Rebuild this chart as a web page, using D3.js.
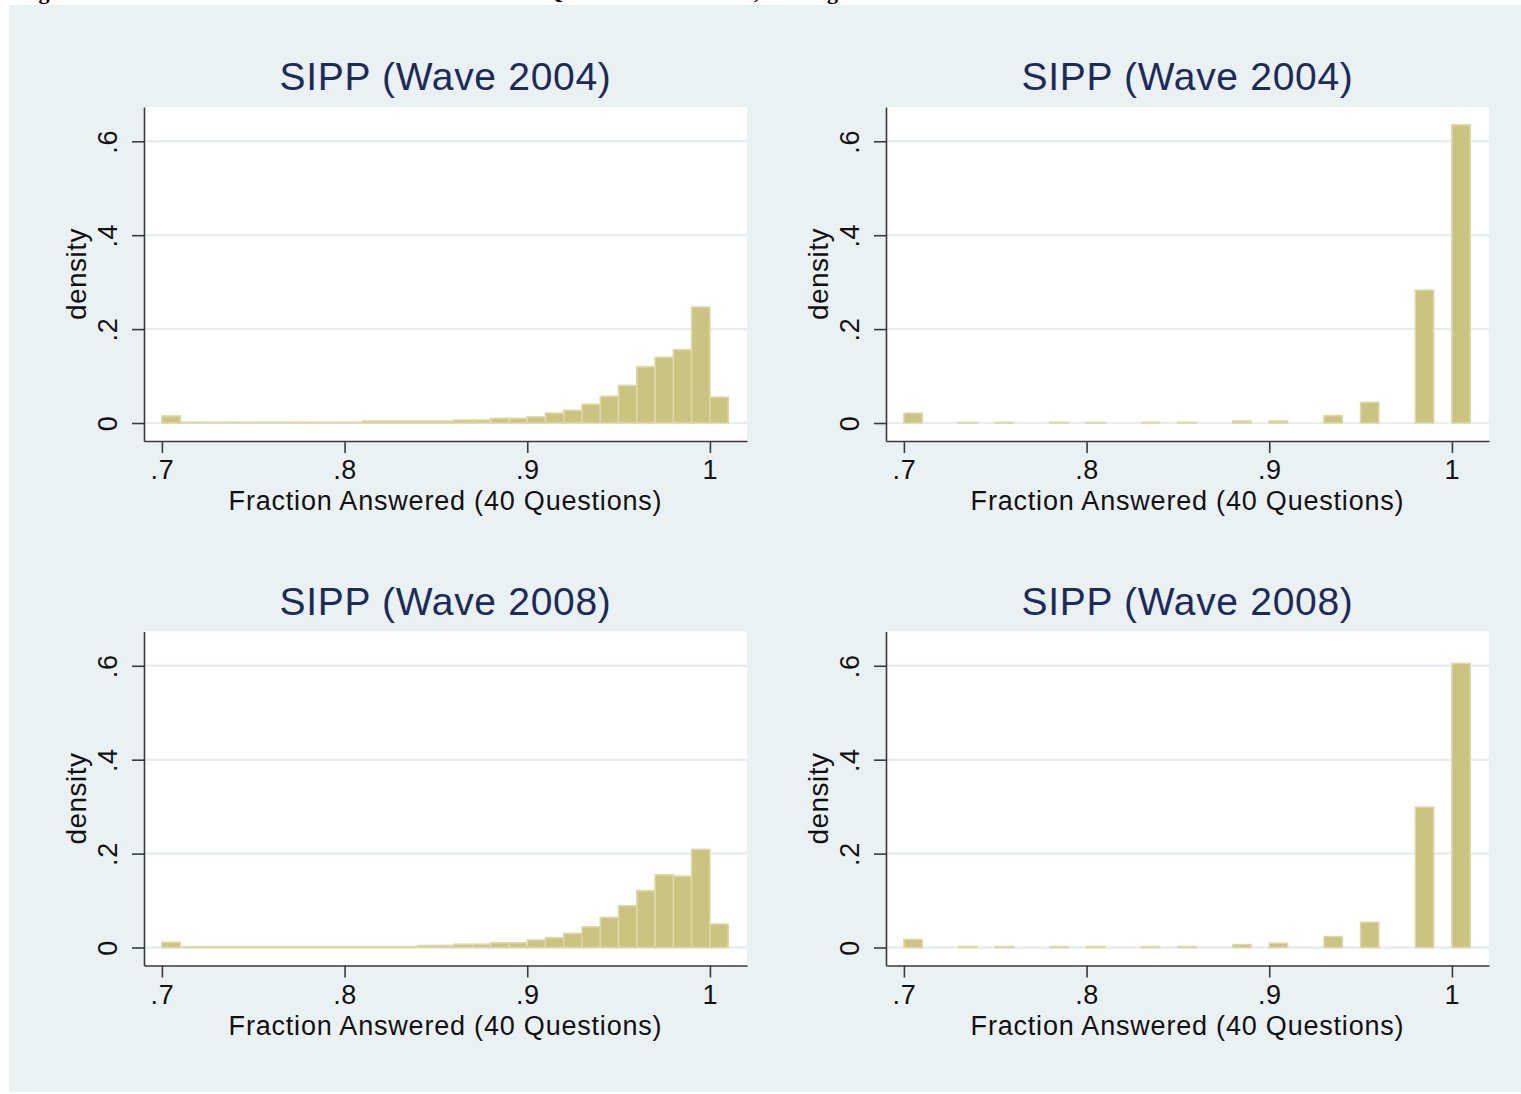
<!DOCTYPE html>
<html>
<head>
<meta charset="utf-8">
<script src="https://cdn.jsdelivr.net/npm/d3@7"></script>
<style>
body { margin: 0; background: #fff; }
text { font-family: "Liberation Sans", Arial, sans-serif; }
</style>
</head>
<body>
<script>
// bins of width .01 (left panels use every bin, right panels only some)
var binsFine = [0.70,0.71,0.72,0.73,0.74,0.75,0.76,0.77,0.78,0.79,
                0.80,0.81,0.82,0.83,0.84,0.85,0.86,0.87,0.88,0.89,
                0.90,0.91,0.92,0.93,0.94,0.95,0.96,0.97,0.98,0.99,1.00];
var binsCoarse = [0.70,0.73,0.75,0.78,0.80,0.83,0.85,0.88,0.90,0.93,0.95,0.98,1.00];

var dens2004Fine = [0.015,0.0015,0.0015,0.0015,0.0015,0.0015,0.0015,0.0015,0.0015,0.0015,
                    0.0015,0.0043,0.0043,0.0043,0.0043,0.0043,0.0064,0.0064,0.0099,0.0099,
                    0.013,0.021,0.027,0.040,0.057,0.080,0.120,0.140,0.156,0.247,0.055];
var dens2004Coarse = [0.021,0.0014,0.0014,0.0014,0.0014,0.0014,0.0014,0.0043,0.0043,0.0156,0.044,0.283,0.635];

var dens2008Fine = [0.011,0.0014,0.0014,0.0014,0.0014,0.0014,0.0014,0.0014,0.0014,0.0014,
                    0.0014,0.0014,0.0014,0.0014,0.0043,0.0043,0.007,0.007,0.010,0.010,
                    0.016,0.021,0.030,0.044,0.064,0.089,0.121,0.155,0.152,0.209,0.050];
var dens2008Coarse = [0.017,0.002,0.002,0.002,0.002,0.002,0.002,0.0064,0.0092,0.0233,0.0538,0.299,0.605];

var titles = ['SIPP (Wave 2004)','SIPP (Wave 2004)','SIPP (Wave 2008)','SIPP (Wave 2008)'];
var xTicks = [0.7,0.8,0.9,1.0];
var xTickLabels = ['.7','.8','.9','1'];
var yTicks = [0,0.2,0.4,0.6];
var yTickLabels = ['0','.2','.4','.6'];
var binWidth = 0.01;

var W = 1521, H = 1094;
var pw = 603, ph = 334;

var svg = d3.select('body')
            .append('svg')
            .attr('width', W)
            .attr('height', H)

// caption of the page, cut off at the top (as in the scan)
var cap = svg.append('text')
            .attr('y', -1)
            .style('font-family','"Liberation Serif", "Times New Roman", serif')
            .style('font-weight','bold')
            .style('font-size','22px')
            .attr('fill','#000')
cap.append('tspan').attr('x',19).text('Figure 2: Distribution of Fraction of')
cap.append('tspan').attr('x',546).text('Questions')
cap.append('tspan').attr('x',660).text('Answered, Missing')

svg.append('rect')
            .attr('x',9).attr('y',5)
            .attr('width', W-9).attr('height', H-7)
            .attr('fill','#e9f1f3')

var panels = [
    {x:144, y:107,   bins:binsFine,   dens:dens2004Fine},
    {x:886, y:107,   bins:binsCoarse, dens:dens2004Coarse},
    {x:144, y:631.5, bins:binsFine,   dens:dens2008Fine},
    {x:886, y:631.5, bins:binsCoarse, dens:dens2008Coarse}
];

var x = d3.scaleLinear().domain([0.6902,1.0203]).range([0,pw]);
var y = d3.scaleLinear().domain([-0.0383,0.673]).range([ph,0]);

for (var p=0; p<panels.length; p++){
    var pan = panels[p];
    var grp = svg.append('g')
            .attr('transform','translate('+pan.x+','+pan.y+')')

    grp.append('rect')
            .attr('width',pw).attr('height',ph)
            .attr('fill','#fff')

    grp.selectAll('line.grid')
            .data(yTicks)
            .enter()
            .append('line')
            .attr('class','grid')
            .attr('x1',0).attr('x2',pw)
            .attr('y1',function(d){return y(d);})
            .attr('y2',function(d){return y(d);})
            .attr('stroke','#e6eef1')
            .attr('stroke-width',2.5)

    var rows = pan.bins.map(function(b,i){return {x0:b, v:pan.dens[i]};});
    grp.selectAll('rect.bar')
            .data(rows)
            .enter()
            .append('rect')
            .attr('class','bar')
            .attr('x',function(d){return x(d.x0);})
            .attr('width',function(d){return x(d.x0+binWidth)-x(d.x0);})
            .attr('y',function(d){return y(d.v);})
            .attr('height',function(d){return y(0)-y(d.v);})
            .attr('fill','#cbc380')
            .attr('stroke','#ddd8a6')
            .attr('stroke-width',1.6)

    var xa = grp.append('g')
            .attr('transform','translate(0,'+ph+')')
            .call(d3.axisBottom(x).tickValues(xTicks)
                  .tickFormat(function(d,i){return xTickLabels[i];})
                  .tickSize(12).tickSizeOuter(0).tickPadding(7))
    var ya = grp.append('g')
            .call(d3.axisLeft(y).tickValues(yTicks)
                  .tickFormat(function(d,i){return yTickLabels[i];})
                  .tickSize(12).tickSizeOuter(0))

    grp.selectAll('.domain, .tick line')
            .attr('stroke','#3a3a3a')
            .attr('stroke-width',1.6)
    xa.selectAll('text')
            .style('font-size','27px')
            .style('letter-spacing','0.6px')
            .attr('fill','#111')
            .attr('dy','0.71em')
    ya.selectAll('text')
            .style('font-size','27px')
            .style('letter-spacing','0.6px')
            .attr('fill','#111')
            .attr('text-anchor','middle')
            .attr('transform','rotate(-90)')
            .attr('x',0).attr('y',-27).attr('dy',0)

    grp.append('text')
            .attr('x',pw/2).attr('y',-17)
            .attr('text-anchor','middle')
            .style('font-size','39px')
            .style('letter-spacing','0.7px')
            .attr('fill','#1c2b58')
            .text(titles[p])

    grp.append('text')
            .attr('x',pw/2).attr('y',ph+69)
            .attr('text-anchor','middle')
            .style('font-size','27px')
            .style('letter-spacing','0.8px')
            .attr('fill','#111')
            .text('Fraction Answered (40 Questions)')

    grp.append('text')
            .attr('transform','translate(-58,'+(ph/2)+') rotate(-90)')
            .attr('text-anchor','middle')
            .style('font-size','28px')
            .style('letter-spacing','0.5px')
            .attr('fill','#111')
            .text('density')
}
</script>
</body>
</html>
